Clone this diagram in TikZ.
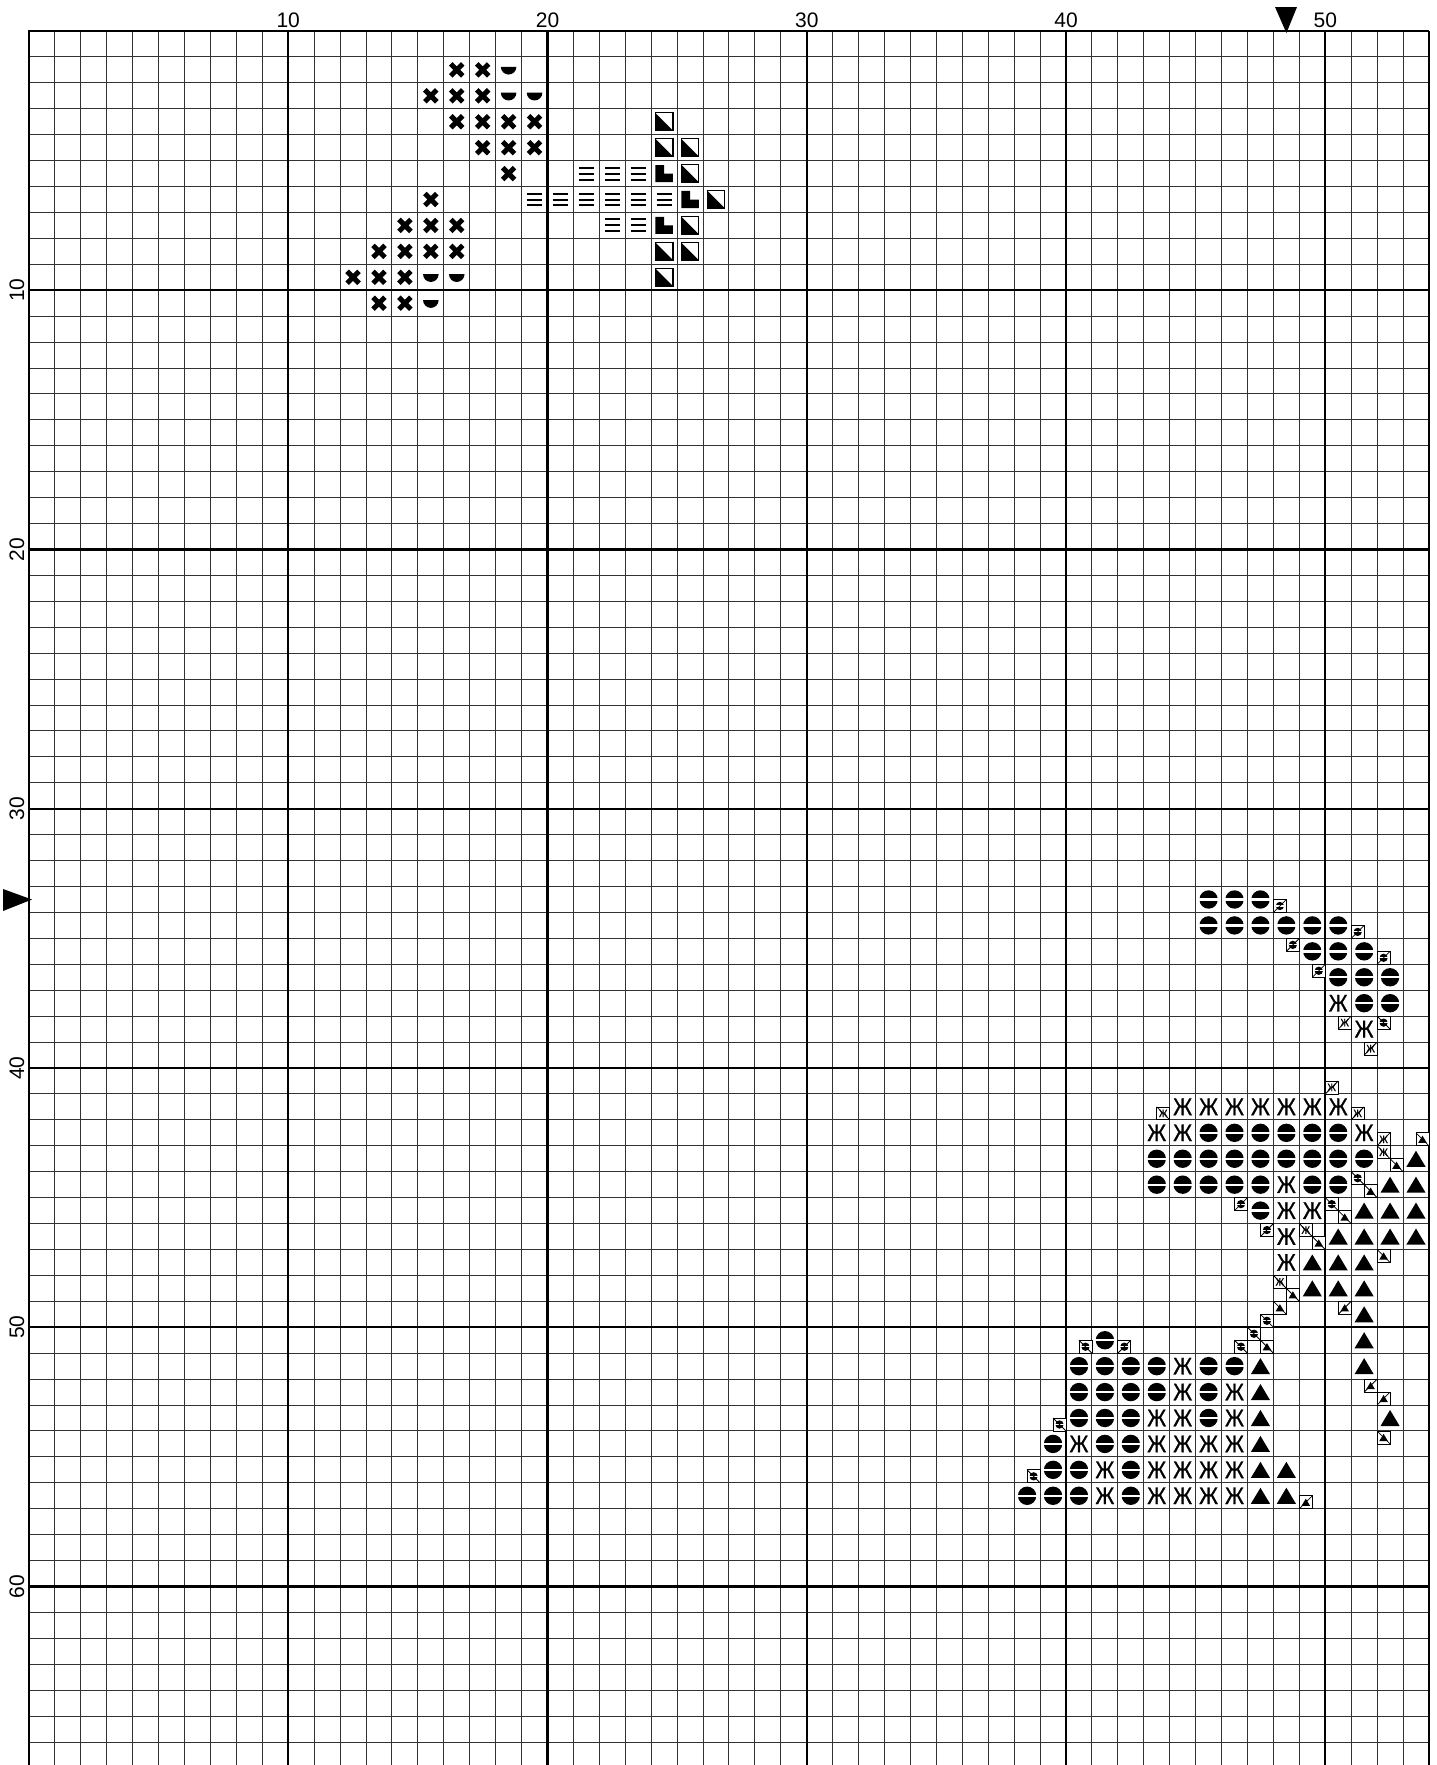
\documentclass[tikz,border=0pt]{standalone}
\usepackage{fontspec}
\setmainfont{Liberation Sans}
\newfontfamily\zhefam[FakeBold=1.2]{Liberation Sans}
\newcommand\lblfont{\fontsize{21}{21}\selectfont}
\newcommand\zhefont{\zhefam\fontsize{24}{24}\selectfont}
\tikzset{
  thingrid/.style={line width=1pt,black!80},
  heavygrid/.style={line width=2.2pt,black},
  bordergrid/.style={line width=2.5pt,black},
  rbordergrid/.style={line width=1.4pt,black},
  qline/.style={line width=0.8pt,black},
  symX/.pic={\draw[line width=5pt] (-0.23,-0.23)--(0.23,0.23) (-0.23,0.23)--(0.23,-0.23);},
  symHalf/.pic={\fill (-0.3,-0.12) arc[start angle=180,end angle=0,radius=0.3] -- cycle;},
  symDiag/.pic={\fill[white] (-0.34,-0.34) rectangle (0.34,0.34);
                \fill (-0.34,-0.34) -- (-0.34,0.34) -- (0.34,0.34) -- cycle;
                \draw[line width=1.1pt] (-0.34,-0.34) rectangle (0.34,0.34);},
  symL/.pic={\fill (-0.34,-0.33) -- (0,-0.33) -- (0,0) -- (0.34,0) -- (0.34,0.33) -- (-0.34,0.33) -- cycle;},
  symEq/.pic={\draw[line width=2pt] (-0.29,-0.23)--(0.29,-0.23) (-0.29,0)--(0.29,0) (-0.29,0.23)--(0.29,0.23);},
  symD/.pic={\fill (0,0) circle[radius=0.355]; \fill[white] (-0.37,-0.045) rectangle (0.37,0.045);},
  symZ/.pic={\node[inner sep=0pt,font=\zhefont,xscale=0.85,text=black] {Ж};},
  symT/.pic={\fill (0,-0.31) -- (0.37,0.31) -- (-0.37,0.31) -- cycle;},
}
\newcommand\qst[5]{%
  \draw[qline,fill=white] ({#1-0.5},{#2-0.5}) rectangle ({#1-0.5+0.5*#3},{#2-0.5+0.5*#4});
  \pic[scale=0.45,transform shape] at ({#1-0.5+0.25*#3},{#2-0.5+0.25*#4}) {#5};
  \draw[qline] ({#1-0.5},{#2-0.5}) -- ({#1-0.5+0.5*#3},{#2-0.5+0.5*#4});
}
\begin{document}
\begin{tikzpicture}[x=1pt,y=-1pt]
\useasboundingbox (0,0) rectangle (1437,1765);
\fill[white] (0,0) rectangle (1437,1765);
\begin{scope}
\clip (0,0) rectangle (1437,1765);
\begin{scope}[shift={(29,31)},x=25.925pt,y=-25.925pt]
  \foreach \k in {1,...,53} \draw[thingrid] (\k,0) -- (\k,68);
  \foreach \k in {1,...,68} \draw[thingrid] (0,\k) -- (54,\k);
  \foreach \k in {10,20,30,40,50} \draw[heavygrid] (\k,0) -- (\k,68);
  \foreach \k in {10,20,30,40,50,60} \draw[heavygrid] (0,\k) -- (54,\k);
  \draw[rbordergrid] (54,0) -- (54,68);
  \draw[bordergrid] (0,68) -- (0,0) -- (54,0);
  % upper motif
  \foreach \r/\cols in {2/{17,18},3/{16,17,18},4/{17,18,19,20},5/{18,19,20},6/{19},7/{16},8/{15,16,17},9/{14,15,16,17},10/{13,14,15},11/{14,15}}
    \foreach \c in \cols \pic at (\c-0.5,\r-0.5) {symX};
  \foreach \r/\cols in {2/{19},3/{19,20},10/{16,17},11/{16}}
    \foreach \c in \cols \pic at (\c-0.5,\r-0.5) {symHalf};
  \foreach \r/\cols in {4/{25},5/{25,26},6/{26},7/{27},8/{26},9/{25,26},10/{25}}
    \foreach \c in \cols \pic at (\c-0.5,\r-0.5) {symDiag};
  \foreach \r/\cols in {6/{25},7/{26},8/{25}}
    \foreach \c in \cols \pic at (\c-0.5,\r-0.5) {symL};
  \foreach \r/\cols in {6/{22,23,24},7/{20,21,22,23,24,25},8/{23,24}}
    \foreach \c in \cols \pic at (\c-0.5,\r-0.5) {symEq};
  % right motif: discs
  \foreach \r/\cols in {34/{46,47,48},35/{46,47,48,49,50,51},36/{50,51,52},37/{51,52,53},38/{52,53},
      43/{46,47,48,49,50,51},44/{44,45,46,47,48,49,50,51,52},45/{44,45,46,47,48,50,51},46/{48},
      51/{42},52/{41,42,43,44,46,47},53/{41,42,43,44,46},54/{41,42,43,46},55/{40,42,43},56/{40,41,43},57/{39,40,41,43}}
    \foreach \c in \cols \pic at (\c-0.5,\r-0.5) {symD};
  % Zhe
  \foreach \r/\cols in {38/{51},39/{52},42/{45,46,47,48,49,50,51},43/{44,45,52},45/{49},46/{49,50},47/{49},48/{49},
      52/{45},53/{45,47},54/{44,45,47},55/{41,44,45,46,47},56/{42,44,45,46,47},57/{42,44,45,46,47}}
    \foreach \c in \cols \pic at (\c-0.5,\r-0.5) {symZ};
  % triangles
  \foreach \r/\cols in {44/{54},45/{53,54},46/{52,53,54},47/{51,52,53,54},48/{50,51,52},49/{50,51,52},50/{52},51/{52},
      52/{48,52},53/{48},54/{48,53},55/{48},56/{48,49},57/{48,49}}
    \foreach \c in \cols \pic at (\c-0.5,\r-0.5) {symT};
  % quarter stitches
  \foreach \c/\r/\sx/\sy in {49/34/-1/1,52/35/-1/1,49/36/1/-1,53/36/-1/1,50/37/1/-1,53/39/-1/-1,
      52/45/-1/-1,47/46/1/-1,51/46/-1/-1,48/47/1/-1,48/50/1/1,41/51/1/1,43/51/-1/1,47/51/1/1,48/51/-1/-1,40/54/1/1,39/56/1/1}
    {\qst{\c}{\r}{\sx}{\sy}{symD}}
  \foreach \c/\r/\sx/\sy in {51/39/1/-1,52/40/1/-1,51/41/-1/1,44/42/1/1,52/42/-1/1,53/43/-1/1,53/44/-1/-1,50/47/-1/-1,49/49/-1/-1}
    {\qst{\c}{\r}{\sx}{\sy}{symZ}}
  \foreach \c/\r/\sx/\sy in {54/43/1/1,53/44/1/1,52/45/1/1,51/46/1/1,50/47/1/1,53/48/-1/-1,49/49/1/1,49/50/-1/-1,51/50/1/-1,
      48/51/1/1,52/53/1/-1,53/53/-1/1,53/55/-1/-1,50/57/-1/1}
    {\qst{\c}{\r}{\sx}{\sy}{symT}}
\end{scope}
\end{scope}
% axis labels
\foreach \n in {1,...,5}
  \node[anchor=base,inner sep=0pt,font=\lblfont] (top\n) at ({29+\n*259.25},27) {\n0};
\foreach \n in {1,...,6}
  \node[anchor=base,rotate=90,inner sep=0pt,font=\lblfont] (left\n) at (24,{31+\n*259.25}) {\n0};
% centre markers
\fill (1275,7) -- (1297,7) -- (1286.4,33) -- cycle;
\fill (3,889) -- (3,911) -- (32,899.5) -- cycle;
\end{tikzpicture}
\end{document}
